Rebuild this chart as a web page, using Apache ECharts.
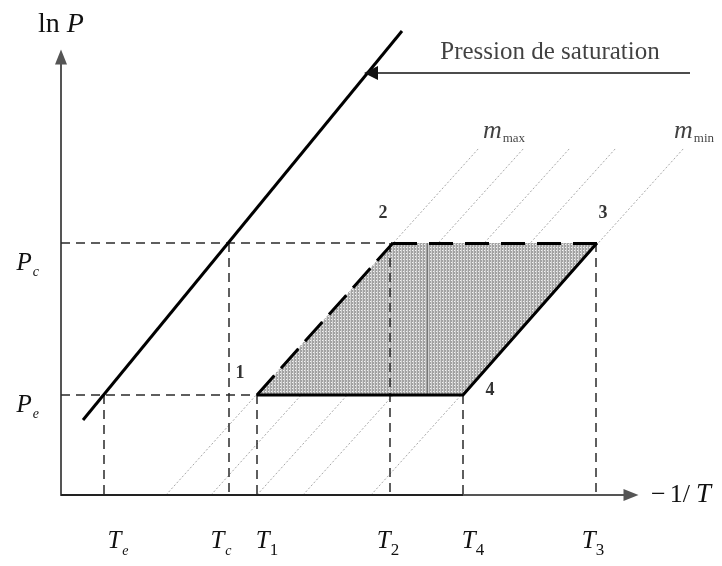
<!DOCTYPE html>
<html><head><meta charset="utf-8">
<script src="https://cdn.jsdelivr.net/npm/echarts@6/dist/echarts.min.js"></script>
<style>html,body{margin:0;padding:0;background:#fff}#c{width:722px;height:566px}</style>
</head><body><div id="c"></div>
<script>
// ---- data (abstract units along −1/T and ln P) ----
const tickNames = ['e', 'c', '1', '2', '4', '3'];
const tickValues = [43, 168, 196, 329, 402, 535];
const tickLabelPos = [57, 160, 206, 327, 412, 532];
const pressureNames = ['c', 'e'];
const pressureValues = [252, 100];
const pressureLabelPos = [230, 88];
const saturationLine = [[22, 75], [341, 464]];
const cyclePoints = [[196, 100], [332, 252], [536, 252], [402, 100]];
const cycleNames = ['1', '2', '3', '4'];
const cycleLabelPos = [[179, 122], [322, 282], [542, 282], [429, 105]];
const isosteres = [
  [[105, 0], [418, 347]],
  [[150, 0], [463, 347]],
  [[196, 0], [509, 347]],
  [[242, 0], [555, 347]],
  [[310, 0], [623, 347]]
];
const isostereLabels = ['max', 'min'];
const isostereLabelPos = [[443, 363], [633, 363]];
const satArrow = [[629, 422], [310, 422]];
const satText = 'Pression de saturation';
const satTextPos = [489, 443];
const innerStripe = [[366, 100], [366, 252]];

// ---- fill pattern ----
const pc = document.createElement('canvas');
pc.width = 3; pc.height = 3;
const g = pc.getContext('2d');
g.fillStyle = '#a2a2a2'; g.fillRect(0, 0, 3, 3);
g.fillStyle = '#d0d0d0'; g.fillRect(2, 0, 1, 3);
g.fillStyle = '#f2f2f2'; g.fillRect(1, 1, 1, 1);
const pattern = { image: pc, repeat: 'repeat' };

const SERIF = 'Liberation Serif';
const richSub = {
  t: { fontFamily: SERIF, fontStyle: 'italic', fontSize: 25, color: '#111', verticalAlign: 'top' },
  s: { fontFamily: SERIF, fontStyle: 'italic', fontSize: 14, color: '#111', verticalAlign: 'top', padding: [15, 0, 0, 1] },
  n: { fontFamily: SERIF, fontSize: 17, color: '#111', verticalAlign: 'top', padding: [13, 0, 0, 0] },
  m: { fontFamily: SERIF, fontStyle: 'italic', fontSize: 26, color: '#111', verticalAlign: 'top' },
  ms: { fontFamily: SERIF, fontSize: 13, color: '#111', verticalAlign: 'top', padding: [14, 0, 0, 1] },
  a: { fontFamily: SERIF, fontSize: 26, color: '#111', padding: [0, 4, 0, 0] },
  b: { fontFamily: SERIF, fontSize: 26, color: '#111', padding: [0, 3, 0, 0] },
  i: { fontFamily: SERIF, fontStyle: 'italic', fontSize: 27, color: '#111', padding: [0, 0, 0, 3] }
};

function seg(a, b) { return { coords: [a, b] }; }
const dash = { color: '#2a2a2a', width: 1.5, type: [9, 6] };

const guideH = [
  seg([0, pressureValues[1]], cyclePoints[0]),
  seg([0, pressureValues[0]], cyclePoints[1])
];
const guideV = [
  seg([tickValues[0], pressureValues[1]], [tickValues[0], 0]),
  seg([tickValues[1], pressureValues[0]], [tickValues[1], 0]),
  seg([tickValues[2], pressureValues[1]], [tickValues[2], 0]),
  seg([tickValues[3], pressureValues[0]], [tickValues[3], 0]),
  seg([tickValues[4], pressureValues[1]], [tickValues[4], 0]),
  seg([tickValues[5], pressureValues[0]], [tickValues[5], 0])
];

function tickLabel(v) {
  const name = tickNames[tickLabelPos.indexOf(v)];
  const style = /\d/.test(name) ? 'n' : 's';
  return '{t|T}{' + style + '|' + name + '}';
}

const chart = echarts.init(document.getElementById('c'), null, { renderer: 'canvas' });
chart.setOption({
  animation: false,
  backgroundColor: '#fff',
  grid: { left: 61, top: 57, width: 570, height: 438 },
  xAxis: {
    type: 'value', min: 0, max: 570,
    axisLine: { show: true, lineStyle: { color: '#555', width: 2 }, symbol: ['none', 'triangle'], symbolSize: [12, 15] },
    axisTick: { show: false },
    splitLine: { show: false },
    axisLabel: {
      customValues: tickLabelPos,
      margin: 34,
      verticalAlign: 'top',
      formatter: tickLabel,
      rich: richSub
    },
    name: '{a|−}{b|1/}{i|T}',
    nameLocation: 'end',
    nameGap: 20,
    nameTextStyle: { rich: richSub, align: 'left', verticalAlign: 'middle' }
  },
  yAxis: {
    type: 'value', min: 0, max: 438,
    axisLine: { show: true, lineStyle: { color: '#555', width: 2 }, symbol: ['none', 'triangle'], symbolSize: [12, 15] },
    axisTick: { show: false },
    splitLine: { show: false },
    axisLabel: {
      customValues: pressureLabelPos,
      margin: 22,
      verticalAlign: 'middle',
      formatter: v => '{t|P}{s|' + pressureNames[pressureLabelPos.indexOf(v)] + '}',
      rich: richSub
    },
    name: '{u|ln }{i|P}',
    nameLocation: 'end',
    nameGap: 18,
    nameTextStyle: { rich: { u: { fontFamily: SERIF, fontSize: 28, color: '#111' }, i: { fontFamily: SERIF, fontStyle: 'italic', fontSize: 28, color: '#111' } } }
  },
  series: [
    { type: 'lines', coordinateSystem: 'cartesian2d', clip: false, z: 1, silent: true,
      lineStyle: { color: '#a8a8a8', width: 1, type: [2, 2], opacity: 1 },
      data: isosteres.map(l => seg(l[0], l[1])) },
    { type: 'custom', coordinateSystem: 'cartesian2d', clip: false, z: 2, silent: true,
      data: [cyclePoints[0]],
      renderItem: (params, api) => ({
        type: 'polygon',
        shape: { points: cyclePoints.map(p => api.coord(p)) },
        style: { fill: pattern, stroke: null }
      }) },
    { type: 'lines', coordinateSystem: 'cartesian2d', clip: false, z: 3, silent: true,
      lineStyle: { color: '#777', width: 1, opacity: 1 },
      data: [seg(innerStripe[0], innerStripe[1])] },
    { type: 'lines', coordinateSystem: 'cartesian2d', clip: false, z: 3, silent: true,
      lineStyle: { color: '#222', width: 2, opacity: 1 },
      data: [seg([0, 0], [tickValues[4], 0])] },
    { type: 'lines', coordinateSystem: 'cartesian2d', clip: false, z: 4, silent: true,
      lineStyle: Object.assign({ opacity: 1 }, dash),
      data: guideH.concat(guideV) },
    { type: 'lines', coordinateSystem: 'cartesian2d', clip: false, z: 5, silent: true,
      lineStyle: { color: '#000', width: 3, type: [26, 10], opacity: 1 },
      data: [seg(cyclePoints[0], cyclePoints[1])] },
    { type: 'lines', coordinateSystem: 'cartesian2d', clip: false, z: 5, silent: true,
      lineStyle: { color: '#000', width: 3, type: [24, 12], opacity: 1 },
      data: [seg(cyclePoints[1], cyclePoints[2])] },
    { type: 'lines', coordinateSystem: 'cartesian2d', clip: false, z: 5, silent: true, polyline: true,
      lineStyle: { color: '#000', width: 3, opacity: 1, join: 'miter' },
      data: [{ coords: [cyclePoints[2], cyclePoints[3], cyclePoints[0]] }] },
    { type: 'lines', coordinateSystem: 'cartesian2d', clip: false, z: 6, silent: true,
      lineStyle: { color: '#000', width: 3, opacity: 1 },
      data: [seg(saturationLine[0], saturationLine[1])] },
    { type: 'lines', coordinateSystem: 'cartesian2d', clip: false, z: 6, silent: true,
      symbol: ['none', 'triangle'], symbolSize: 14,
      lineStyle: { color: '#111', width: 1.5, opacity: 1 },
      data: [seg(satArrow[0], satArrow[1])] },
    { type: 'scatter', coordinateSystem: 'cartesian2d', clip: false, z: 7, silent: true,
      symbolSize: 0,
      label: { show: true, position: 'inside', fontFamily: SERIF, fontWeight: 'bold', fontSize: 18, color: '#000',
        formatter: p => cycleNames[p.dataIndex] },
      data: cycleLabelPos },
    { type: 'scatter', coordinateSystem: 'cartesian2d', clip: false, z: 7, silent: true,
      symbolSize: 0,
      label: { show: true, position: 'inside', rich: richSub,
        formatter: p => '{m|m}{ms|' + isostereLabels[p.dataIndex] + '}' },
      data: isostereLabelPos },
    { type: 'scatter', coordinateSystem: 'cartesian2d', clip: false, z: 7, silent: true,
      symbolSize: 0,
      label: { show: true, position: 'inside', fontFamily: SERIF, fontSize: 25, color: '#111',
        formatter: () => satText },
      data: [satTextPos] }
  ]
});
</script>
</body></html>
